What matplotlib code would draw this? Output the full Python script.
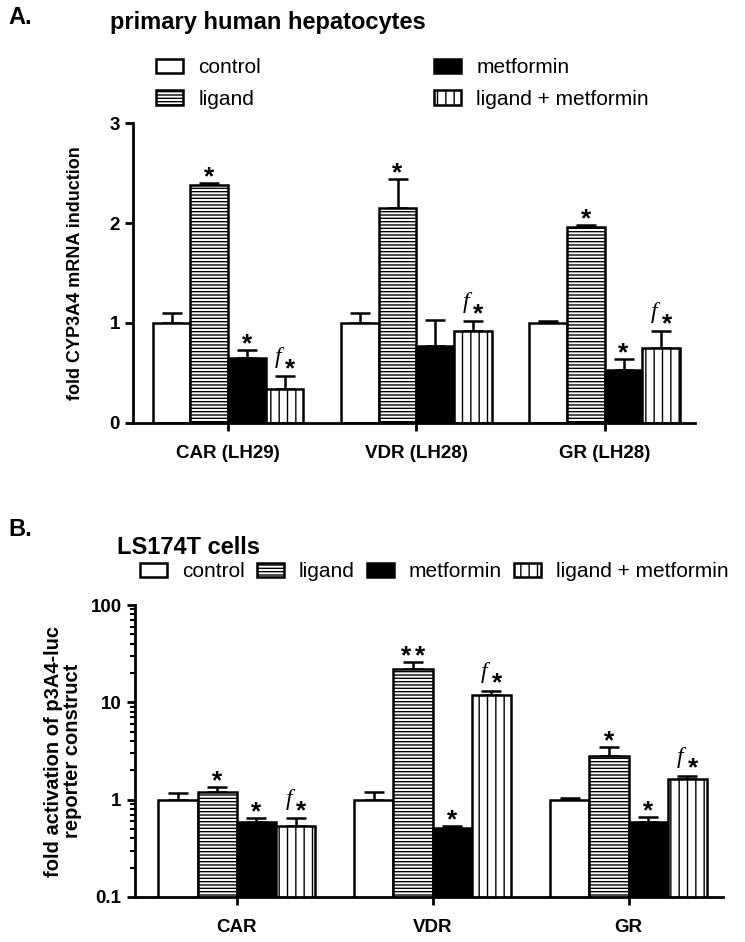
import numpy as np
import matplotlib
matplotlib.use("Agg")
import matplotlib.pyplot as plt
from matplotlib.patches import Patch

plt.rcParams["font.family"] = ["Liberation Sans", "DejaVu Sans"]
plt.rcParams["hatch.linewidth"] = 1.0

series = ["control", "ligand", "metformin", "ligand + metformin"]

# panel A: primary human hepatocytes (linear scale)
groups_a = ["CAR (LH29)", "VDR (LH28)", "GR (LH28)"]
a_control = [1.00, 1.00, 1.00]
a_control_err = [0.10, 0.10, 0.02]
a_ligand = [2.38, 2.15, 1.96]
a_ligand_err = [0.02, 0.29, 0.02]
a_metformin = [0.65, 0.77, 0.53]
a_metformin_err = [0.08, 0.26, 0.11]
a_combo = [0.34, 0.92, 0.75]
a_combo_err = [0.13, 0.10, 0.17]
a_marks = [["", "", ""], ["*", "*", "*"], ["*", "", "*"], ["f*", "f*", "f*"]]

# panel B: LS174T cells (log scale)
groups_b = ["CAR", "VDR", "GR"]
b_control = [1.00, 1.00, 1.00]
b_control_err = [0.18, 0.20, 0.05]
b_ligand = [1.20, 22.2, 2.83]
b_ligand_err = [0.16, 3.8, 0.67]
b_metformin = [0.59, 0.515, 0.59]
b_metformin_err = [0.06, 0.025, 0.08]
b_combo = [0.54, 12.0, 1.64]
b_combo_err = [0.11, 1.2, 0.12]
b_marks = [["", "", ""], ["*", "**", "*"], ["*", "*", "*"], ["f*", "f*", "f*"]]

styles = [("white", ""), ("white", "-----"), ("black", ""), ("white", "||")]
BAR_W = 0.2
LW = 1.8
STAR_KW = dict(textcoords="offset points", ha="center", va="baseline",
               fontsize=19, fontweight="bold")


def annotate_mark(ax, x, y, mark):
    if mark == "":
        return
    if mark.startswith("f"):
        ax.annotate("f", (x, y), xytext=(-5, 9), textcoords="offset points",
                    ha="center", va="baseline", fontsize=17, style="italic",
                    family=["Liberation Serif", "DejaVu Serif"])
        ax.annotate("*", (x, y), xytext=(4, 0), **STAR_KW)
    elif mark == "**":
        # two stars with a small gap, as in the original
        ax.annotate("*", (x, y), xytext=(-5, -1), **STAR_KW)
        ax.annotate("*", (x, y), xytext=(5, -1), **STAR_KW)
    else:
        ax.annotate(mark, (x, y), xytext=(0, -1), **STAR_KW)


def draw_panel(ax, groups, means, errs, marks):
    x = np.arange(len(groups))
    for i, (m, e, mk, (fc, hatch)) in enumerate(zip(means, errs, marks, styles)):
        m = np.array(m)
        e = np.array(e)
        pos = x + (i - 1.5) * BAR_W
        ax.bar(pos, m, BAR_W, color=fc, edgecolor="black", hatch=hatch,
               linewidth=LW, zorder=2)
        ax.errorbar(pos, m, yerr=[np.zeros_like(e), e], fmt="none", ecolor="black",
                    elinewidth=LW, capsize=7, capthick=LW, zorder=1)
        for p, top, s in zip(pos, m + e, mk):
            annotate_mark(ax, p, top, s)
    ax.set_xticks(x)
    ax.set_xticklabels(groups, fontsize=13.5, fontweight="bold")
    for side in ["top", "right"]:
        ax.spines[side].set_visible(False)
    for side in ["left", "bottom"]:
        ax.spines[side].set_linewidth(2)
    ax.tick_params(axis="both", which="major", width=2, length=6, labelsize=13.5)
    ax.tick_params(axis="x", pad=10)


fig = plt.figure(figsize=(7.45, 9.42), dpi=100)

# ---- panel A
ax_a = fig.add_axes([0.1785, 0.551, 0.7545, 0.3184])
draw_panel(ax_a, groups_a,
           [a_control, a_ligand, a_metformin, a_combo],
           [a_control_err, a_ligand_err, a_metformin_err, a_combo_err],
           a_marks)
ax_a.set_xlim(-0.505, 2.48)
ax_a.set_ylim(0, 3)
ax_a.set_yticks([0, 1, 2, 3])
ax_a.set_yticklabels(["0", "1", "2", "3"], fontweight="bold")
ax_a.set_ylabel("fold CYP3A4 mRNA induction", fontsize=13, fontweight="bold", labelpad=18)

fig.text(0.011, 0.981, "A.", fontsize=17, fontweight="bold", va="center")
fig.text(0.148, 0.976, "primary human hepatocytes", fontsize=17, fontweight="bold", va="center")

handles = [Patch(facecolor=fc, edgecolor="black", hatch=h, linewidth=LW) for fc, h in styles]
leg_kw = dict(frameon=False, fontsize=15, handlelength=1.3, handleheight=0.7,
              handletextpad=0.75, labelspacing=0.6, borderpad=0, borderaxespad=0,
              loc="upper left")
fig.legend(handles[:2], series[:2], bbox_to_anchor=(0.209, 0.938), **leg_kw)
fig.legend(handles[2:], series[2:], bbox_to_anchor=(0.582, 0.938), **leg_kw)

# ---- panel B
ax_b = fig.add_axes([0.181, 0.0478, 0.789, 0.3099])
draw_panel(ax_b, groups_b,
           [b_control, b_ligand, b_metformin, b_combo],
           [b_control_err, b_ligand_err, b_metformin_err, b_combo_err],
           b_marks)
ax_b.set_yscale("log")
ax_b.set_xlim(-0.52, 2.48)
ax_b.set_ylim(0.1, 100)
ax_b.set_yticks([0.1, 1, 10, 100])
ax_b.set_yticklabels(["0.1", "1", "10", "100"], fontweight="bold")
ax_b.tick_params(axis="y", which="minor", width=1.5, length=3.5)
ax_b.set_ylabel("fold activation of p3A4-luc\nreporter construct", fontsize=14.5,
                fontweight="bold", labelpad=6, linespacing=1.0)

fig.text(0.011, 0.438, "B.", fontsize=17, fontweight="bold", va="center")
fig.text(0.157, 0.419, "LS174T cells", fontsize=17, fontweight="bold", va="center")

fig.legend(handles, series, ncol=4, bbox_to_anchor=(0.188, 0.403),
           frameon=False, fontsize=15, handlelength=1.3, handleheight=0.7,
           handletextpad=0.7, columnspacing=0.6, borderpad=0, borderaxespad=0,
           loc="upper left")

fig.savefig("out.png", dpi=100)
